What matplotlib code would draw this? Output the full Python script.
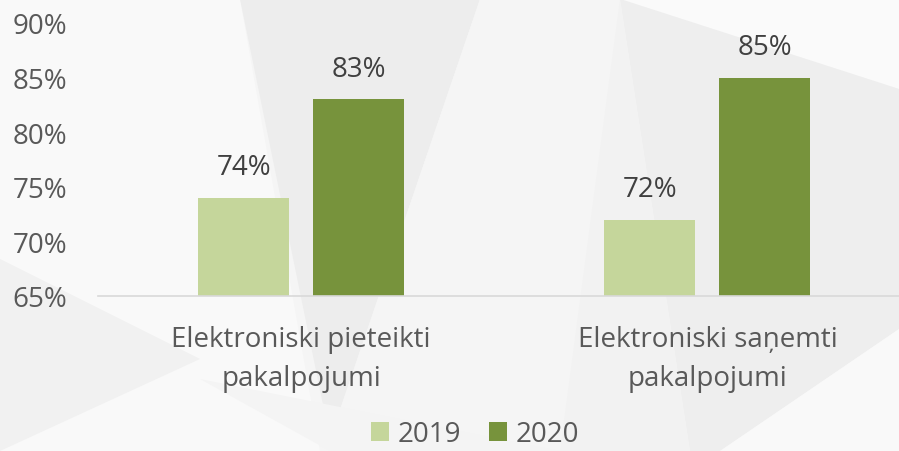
import matplotlib
matplotlib.use("Agg")
import matplotlib.pyplot as plt
from matplotlib.patches import Polygon
import numpy as np

categories = ["Elektroniski pieteikti\npakalpojumi", "Elektroniski saņemti\npakalpojumi"]
series_names = ["2019", "2020"]
values_2019 = [74, 72]
values_2020 = [83, 85]
yticks = [65, 70, 75, 80, 85, 90]

c2019 = "#c5d69b"
c2020 = "#77933c"
txt = "#595959"

plt.rcParams['font.family'] = ['Open Sans', 'DejaVu Sans']

W, H = 899, 452
fig = plt.figure(figsize=(W/100, H/100), dpi=100)
fig.patch.set_facecolor("#f5f5f5")

# decorative background shapes (figure pixel coords)
def poly(pts, color, alpha=1.0):
    p = Polygon([(x/W, 1 - y/H) for x, y in pts], closed=True, transform=fig.transFigure,
                facecolor=color, edgecolor="none", alpha=alpha, zorder=-10)
    fig.patches.append(p)

poly([(0, 0), (240, 0), (320, 452), (0, 452)], "#f9f9f9")
poly([(240, 0), (480, 0), (330, 440)], "#ededed")
poly([(480, 0), (620, 0), (330, 440)], "#f5f5f5")
poly([(620, 0), (899, 0), (899, 90)], "#fafafa")
poly([(620, 0), (899, 90), (899, 330), (720, 452), (690, 452)], "#eeeeee")
poly([(620, 0), (690, 452), (560, 452)], "#f2f2f2")
poly([(0, 260), (200, 360), (0, 452)], "#f1f1f1")
poly([(720, 452), (899, 330), (899, 452)], "#f9f9f9")
poly([(200, 380), (560, 452), (330, 452)], "#f4f4f4")

ax = fig.add_axes([98/W, 1 - 297/H, 812.5/W, 273/H])
ax.set_facecolor("none")

x = np.arange(len(categories))
bw = 0.224
off = 0.1416
b1 = ax.bar(x - off, values_2019, bw, color=c2019, label=series_names[0], zorder=2)
b2 = ax.bar(x + off, values_2020, bw, color=c2020, label=series_names[1], zorder=2)

for bars, vals in ((b1, values_2019), (b2, values_2020)):
    for r, v in zip(bars, vals):
        ax.annotate(f"{v}%", (r.get_x() + r.get_width()/2, v), xytext=(0, 22),
                    textcoords="offset points", ha="center", va="center",
                    fontsize=20, color="#404040")

ax.set_xlim(-0.5, 1.5)
ax.set_ylim(65, 90)
ax.set_yticks(yticks)
ax.set_yticklabels([f"{t}%" for t in yticks])
ax.set_xticks(x)
ax.set_xticklabels(categories, linespacing=1.5)
ax.tick_params(axis="both", length=0, labelsize=20, colors=txt)
ax.tick_params(axis="y", pad=22)
ax.tick_params(axis="x", pad=21)
for s in ["top", "right", "left"]:
    ax.spines[s].set_visible(False)
ax.spines["bottom"].set_color("#d9d9d9")
ax.spines["bottom"].set_linewidth(1.2)

leg = fig.legend(handles=[b1, b2], labels=series_names, loc="center",
                 bbox_to_anchor=(475/W, 1 - 435/H), ncol=2, frameon=False,
                 fontsize=20, handlelength=0.65, handleheight=0.65,
                 handletextpad=0.3, columnspacing=1.0, labelcolor=txt,
                 borderpad=0.1)

fig.savefig("out.png", dpi=100, facecolor=fig.get_facecolor())
